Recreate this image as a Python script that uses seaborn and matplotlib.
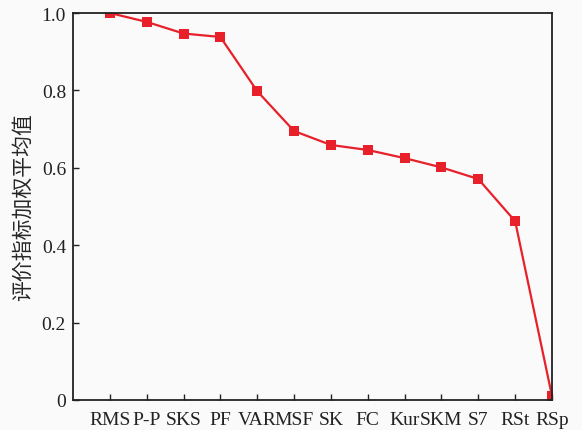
import matplotlib
matplotlib.use("Agg")
import matplotlib.pyplot as plt
import seaborn as sns
import pandas as pd
import numpy as np

categories = ["RMS", "P-P", "SKS", "PF", "VAR", "MSF", "SK", "FC", "Kur", "SKM", "S7", "RSt", "RSp"]
values = [1.0, 0.977, 0.947, 0.938, 0.798, 0.695, 0.659, 0.646, 0.625, 0.601, 0.571, 0.462, 0.01]
y_ticks = [0, 0.2, 0.4, 0.6, 0.8, 1.0]
y_tick_labels = ["0", "0.2", "0.4", "0.6", "0.8", "1.0"]
y_label = "评价指标加权平均值"

sns.set_style("ticks")
plt.rcParams["font.family"] = ["Liberation Serif", "Noto Sans CJK SC"]

df = pd.DataFrame({"pos": np.arange(len(categories)), "val": values})

fig = plt.figure(figsize=(5.82, 4.31), dpi=100, facecolor="#fafafa")
ax = fig.add_axes([73 / 582, 30 / 431, (552 - 73) / 582, (401 - 14) / 431])
ax.set_facecolor("#fafafa")

sns.lineplot(data=df, x="pos", y="val", ax=ax, color="#e8202a", marker="s",
             markersize=7, markeredgewidth=0, linewidth=1.6, sort=False,
             clip_on=True)

ax.set_xlim(-1, len(categories) - 1)
ax.set_ylim(0, 1.0)
ax.set_xticks(df["pos"])
ax.set_xticklabels(categories, fontsize=14)
ax.set_yticks(y_ticks)
ax.set_yticklabels(y_tick_labels, fontsize=14)
ax.tick_params(direction="in", length=4, width=1, colors="#222222", pad=5)
ax.tick_params(axis="x", pad=8)
ax.set_xlabel("")
ax.set_ylabel(y_label, fontsize=15, family=["Noto Sans CJK SC"], labelpad=6)
for s in ax.spines.values():
    s.set_visible(True)
    s.set_linewidth(1.3)
    s.set_color("#222222")

fig.savefig("out.png", dpi=100, facecolor=fig.get_facecolor())
